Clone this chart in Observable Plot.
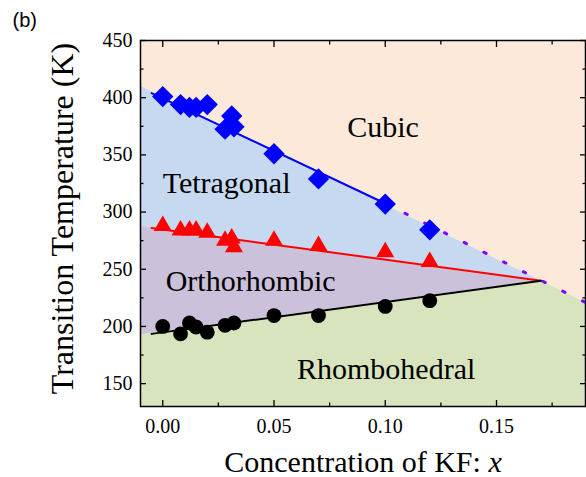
<!DOCTYPE html>
<html><head><meta charset="utf-8">
<script src="https://cdn.jsdelivr.net/npm/d3@7"></script>
<script src="https://cdn.jsdelivr.net/npm/@observablehq/plot@0.6"></script>
<style>body{margin:0;background:#fff}</style>
</head><body><div id="chart"></div>
<script>
// ---- data ----
const conc = [0, 0.008, 0.012, 0.015, 0.02, 0.028, 0.031, 0.032, 0.05, 0.07, 0.10, 0.12];
const tCubicTetra = [401, 394, 391.5, 391.5, 394, 372.5, 384, 374.5, 351, 329, 307, 284.5];
const tTetraOrtho = [288, 284, 284, 284, 282, 275, 277, 269.5, 275, 270.5, 265, 256.5];
const concRh = [0, 0.008, 0.012, 0.015, 0.02, 0.028, 0.032, 0.05, 0.07, 0.10, 0.12];
const tOrthoRhombo = [200, 193.5, 203, 199.5, 195, 201, 203, 209.5, 209.5, 217.5, 222.5];

// fitted / guide lines
const fitCubicX = [-0.005, 0.10], fitCubicT = [404, 307.5];
const extCubicX = [0.10, 0.19], extCubicT = [307.5, 221];
const fitTetraX = [-0.005, 0.17], fitTetraT = [286, 240];
const fitOrthoX = [-0.005, 0.17], fitOrthoT = [193.5, 240];

// phase region boundaries
const boundX = [-0.01, 0.17, 0.19];
const boundCubic = [410, 240, 221];
const boundTetra = [287.5, 240, 221];
const boundOrtho = [192.5, 240, 221];
const tMin = 130, tMax = 450;

const phaseNames = ["Cubic", "Tetragonal", "Orthorhombic", "Rhombohedral"];
const phaseLabelX = [0.099, 0.0287, 0.0395, 0.1004];
const phaseLabelT = [374, 325.3, 239.5, 162.6];
const phaseColors = ["#FDE9D9", "#C6D9F1", "#CCC1DA", "#D7E4BD"];

const xTicks = [0, 0.05, 0.10, 0.15];
const xMinor = [0.025, 0.075, 0.125, 0.175];
const yTicks = [150, 200, 250, 300, 350, 400, 450];
const yMinor = [175, 225, 275, 325, 375, 425];

// ---- tables ----
const bounds = boundX.map((x, i) => ({x, top: tMax, cubic: boundCubic[i], tetra: boundTetra[i], ortho: boundOrtho[i], bottom: tMin}));
const pts = (xs, ts) => xs.map((x, i) => ({x, t: ts[i]}));
const labels = phaseNames.map((name, i) => ({name, x: phaseLabelX[i], t: phaseLabelT[i]}));

const serif = "'Liberation Serif','Times New Roman',Times,serif";
const tickAxis = (Axis, anchor, ticks, size) => Axis({anchor, ticks, tickSize: size, fill: "none", label: null, stroke: "black", strokeWidth: 1.3});

const plot = Plot.plot({
  width: 586, height: 477,
  marginLeft: 140, marginRight: 1, marginTop: 40, marginBottom: 71,
  style: {fontFamily: serif, background: "white", color: "black"},
  x: {domain: [-0.01, 0.19]},
  y: {domain: [tMin, tMax]},
  marks: [
    Plot.areaY(bounds, {x: "x", y1: "cubic", y2: "top", fill: phaseColors[0]}),
    Plot.areaY(bounds, {x: "x", y1: "tetra", y2: "cubic", fill: phaseColors[1]}),
    Plot.areaY(bounds, {x: "x", y1: "ortho", y2: "tetra", fill: phaseColors[2]}),
    Plot.areaY(bounds, {x: "x", y1: "bottom", y2: "ortho", fill: phaseColors[3]}),
    Plot.line(pts(extCubicX, extCubicT), {x: "x", y: "t", stroke: "#8000FF", strokeWidth: 3, strokeDasharray: "2.5,19.5"}),
    Plot.line(pts(fitCubicX, fitCubicT), {x: "x", y: "t", stroke: "#0000FF", strokeWidth: 2}),
    Plot.line(pts(fitTetraX, fitTetraT), {x: "x", y: "t", stroke: "#FF0000", strokeWidth: 2}),
    Plot.line(pts(fitOrthoX, fitOrthoT), {x: "x", y: "t", stroke: "black", strokeWidth: 2}),
    Plot.dot(pts(conc, tCubicTetra), {x: "x", y: "t", symbol: "diamond2", r: 9.6, fill: "#0000FF"}),
    Plot.dot(pts(conc, tTetraOrtho), {x: "x", y: "t", symbol: "triangle2", r: 8.6, fill: "#FF0000"}),
    Plot.dot(pts(concRh, tOrthoRhombo), {x: "x", y: "t", symbol: "circle", r: 7.4, fill: "black"}),
    Plot.text(labels, {x: "x", y: "t", text: "name", fontSize: 30, fill: "black", lineAnchor: "middle"}),
    Plot.frame({stroke: "black", strokeWidth: 1.5}),
    Plot.axisX({anchor: "bottom", ticks: xTicks, tickSize: 0, tickPadding: 12, tickFormat: d3.format(".2f"), fontSize: 20, label: null}),
    Plot.axisY({anchor: "left", ticks: yTicks, tickSize: 0, tickPadding: 8, tickFormat: d3.format("d"), fontSize: 20, label: null}),
    tickAxis(Plot.axisX, "bottom", xTicks, -6),
    tickAxis(Plot.axisX, "bottom", xMinor, -3.5),
    tickAxis(Plot.axisX, "top", xTicks, -6),
    tickAxis(Plot.axisX, "top", xMinor, -3.5),
    tickAxis(Plot.axisY, "left", yTicks, -6),
    tickAxis(Plot.axisY, "left", yMinor, -3.5),
    tickAxis(Plot.axisY, "right", yTicks, -6),
    tickAxis(Plot.axisY, "right", yMinor, -3.5),
    Plot.text(["Concentration of KF: x"], {frameAnchor: "bottom", dy: 65, lineAnchor: "bottom", fontSize: 30, fill: "black"}),
    Plot.text(["Transition Temperature (K)"], {frameAnchor: "left", dx: -90, dy: -5, rotate: -90, textAnchor: "middle", lineAnchor: "top", fontSize: 32, fill: "black"}),
    Plot.text(["(b)"], {frameAnchor: "top-left", dx: -128, dy: -14, textAnchor: "start", lineAnchor: "bottom", fontSize: 20, fontFamily: "'Liberation Sans',Arial,sans-serif", fill: "black"})
  ]
});

d3.select(plot).selectAll("text")
  .filter(function () { return this.textContent === "Concentration of KF: x"; })
  .each(function () {
    const el = d3.select(this);
    el.text("Concentration of KF: ");
    el.append("tspan").attr("font-style", "italic").text("x");
  });

document.getElementById("chart").append(plot);
</script>
</body></html>
